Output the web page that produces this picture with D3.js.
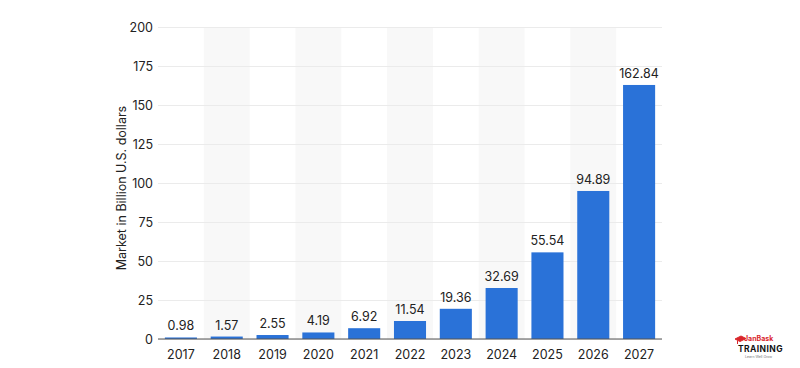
<!DOCTYPE html>
<html>
<head>
<meta charset="utf-8">
<script src="https://cdn.jsdelivr.net/npm/d3@7"></script>
<style>
  body { margin: 0; background: #fff; }
  svg text { font-family: Inter, "Open Sans", sans-serif; }
</style>
</head>
<body>
<div id="chart"></div>
<script>
'use strict';

const years = ['2017','2018','2019','2020','2021','2022','2023','2024','2025','2026','2027'];
const market = [0.98, 1.57, 2.55, 4.19, 6.92, 11.54, 19.36, 32.69, 55.54, 94.89, 162.84];
const yTicks = [0, 25, 50, 75, 100, 125, 150, 175, 200];

const W = 800, H = 368;
const margins = {top: 27, bottom: 29, left: 158, right: 138};
const width = W - margins.left - margins.right;
const height = H - margins.top - margins.bottom;

let svg = d3.select('#chart').append('svg')
    .attr('width', W)
    .attr('height', H);

let xScale = d3.scaleBand().domain(years).range([0, width]).paddingInner(0.3).paddingOuter(0.15);
let yScale = d3.scaleLinear().domain([0, 200]).range([height, 0]);

let chart = svg.append('g')
    .attr('transform', 'translate(' + margins.left + ',' + margins.top + ')');

// alternating column shading
let step = xScale.step();
chart.selectAll('.band')
    .data(years.filter((d, i) => i % 2 === 1))
    .enter()
    .append('rect')
    .attr('class', 'band')
    .attr('x', d => xScale(d) - step * xScale.paddingInner() / 2)
    .attr('y', 0)
    .attr('width', step)
    .attr('height', height)
    .style('fill', '#f8f8f8');

// grid + y axis
let yAxis = d3.axisLeft(yScale).tickValues(yTicks).tickSize(-width).tickPadding(5);
let yAxisGroup = chart.append('g').attr('class', 'yAxis').call(yAxis);
yAxisGroup.select('.domain').remove();
yAxisGroup.selectAll('.tick line').style('stroke', '#ebebeb');
yAxisGroup.selectAll('.tick text')
    .style('font-size', '12.5px')
    .style('fill', '#222');

// bars
chart.selectAll('.data-element')
    .data(market)
    .enter()
    .append('rect')
    .attr('class', 'data-element')
    .attr('x', (d, i) => xScale(years[i]))
    .attr('y', d => yScale(d))
    .attr('width', xScale.bandwidth())
    .attr('height', d => height - yScale(d))
    .style('fill', '#2a72d8');

// value labels
chart.selectAll('.value-label')
    .data(market)
    .enter()
    .append('text')
    .attr('class', 'value-label')
    .attr('x', (d, i) => xScale(years[i]) + xScale.bandwidth() / 2)
    .attr('y', d => yScale(d) - 7)
    .attr('text-anchor', 'middle')
    .style('font-size', '12.5px')
    .style('fill', '#222')
    .text(d => d);

// x axis
let xAxis = d3.axisBottom(xScale).tickSize(0).tickPadding(11);
let xAxisGroup = chart.append('g')
    .attr('class', 'xAxis')
    .attr('transform', 'translate(0,' + height + ')')
    .call(xAxis);
xAxisGroup.select('.domain').attr('d', 'M0,0H' + width).style('stroke', '#555').style('stroke-width', 1.2);
xAxisGroup.selectAll('.tick text')
    .style('font-size', '12.5px')
    .style('fill', '#222');

// y axis title
svg.append('text')
    .attr('transform', 'translate(126,188) rotate(-90)')
    .attr('text-anchor', 'middle')
    .style('font-size', '12.5px')
    .style('fill', '#222')
    .text('Market in Billion U.S. dollars');

// logo
let logo = svg.append('g').attr('transform', 'translate(735,335)');
logo.append('path')
    .attr('d', 'M0,4 L6,1 L11,3.5 L5,6.5 Z M2.5,5.5 L2.5,9')
    .style('fill', '#d9262b')
    .style('stroke', '#d9262b')
    .style('stroke-width', 1);
logo.append('text')
    .attr('x', 9).attr('y', 5.5)
    .style('font-size', '7px')
    .style('fill', '#d9262b')
    .style('font-weight', 'bold')
    .text('JanBask');
logo.append('text')
    .attr('x', 3).attr('y', 16.5)
    .style('font-size', '8.5px')
    .style('font-weight', 'bold')
    .style('fill', '#111')
    .style('letter-spacing', '0.4px')
    .text('TRAINING');
logo.append('text')
    .attr('x', 10).attr('y', 22.5)
    .style('font-size', '3.5px')
    .style('fill', '#777')
    .text('Learn Well Grow');
</script>
</body>
</html>
